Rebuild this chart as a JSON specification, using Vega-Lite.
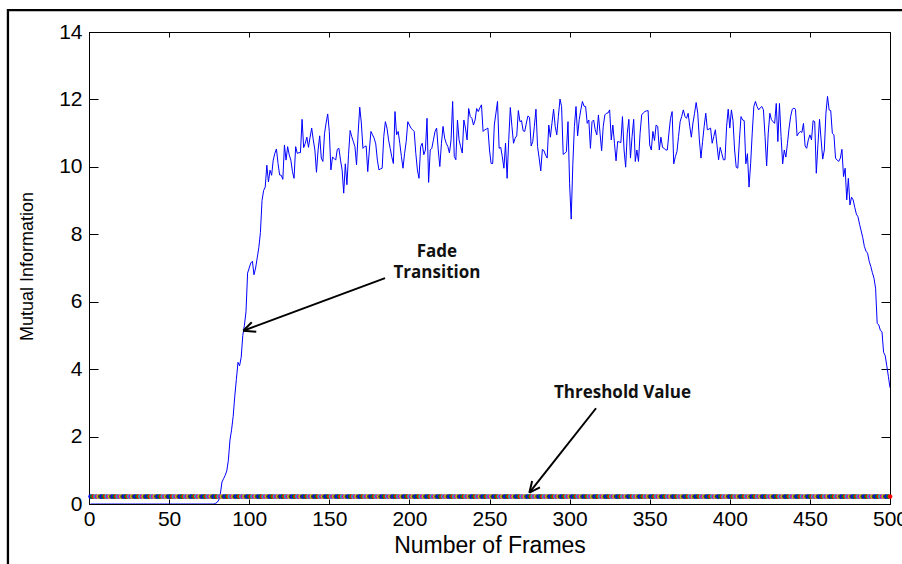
{
  "$schema": "https://vega.github.io/schema/vega-lite/v6.json",
  "width": 801,
  "height": 472,
  "autosize": {"type": "none"},
  "padding": {"left": 89, "top": 32, "right": 12, "bottom": 60},
  "background": "white",
  "config": {
    "view": {"stroke": "black", "strokeWidth": 1},
    "font": "Liberation Sans",
    "axis": {"grid": false, "labelFlush": false, "domainColor": "black", "tickColor": "black", "labelColor": "black", "titleColor": "black", "titleFontWeight": "normal", "labelFont": "Liberation Sans", "titleFont": "Liberation Sans"}
  },
  "datasets": {
    "frame": [{"x0": -50.6, "x1": 520, "y0": 14.65, "y1": -3}],
    "arrows": [
      {"x": 184.8, "y": 6.70, "x2": 96.3, "y2": 5.14},
      {"x": 96.3, "y": 5.14, "x2": 104.4, "y2": 5.11},
      {"x": 96.3, "y": 5.14, "x2": 101.6, "y2": 5.39},
      {"x": 316.5, "y": 2.84, "x2": 274.9, "y2": 0.335},
      {"x": 274.9, "y": 0.335, "x2": 281.5, "y2": 0.496},
      {"x": 274.9, "y": 0.335, "x2": 276.6, "y2": 0.683}
    ],
    "labels": [
      {"x": 217.2, "y": 7.46, "t": "Fade"},
      {"x": 217.2, "y": 6.84, "t": "Transition"},
      {"x": 333, "y": 3.28, "t": "Threshold Value"}
    ],
    "mi": [
{"f":1,"v":0},{"f":2,"v":0},{"f":3,"v":0},{"f":4,"v":0},{"f":5,"v":0},{"f":6,"v":0},{"f":7,"v":0},{"f":8,"v":0},{"f":9,"v":0},{"f":10,"v":0},
{"f":11,"v":0},{"f":12,"v":0},{"f":13,"v":0},{"f":14,"v":0},{"f":15,"v":0},{"f":16,"v":0},{"f":17,"v":0},{"f":18,"v":0},{"f":19,"v":0},{"f":20,"v":0},
{"f":21,"v":0},{"f":22,"v":0},{"f":23,"v":0},{"f":24,"v":0},{"f":25,"v":0},{"f":26,"v":0},{"f":27,"v":0},{"f":28,"v":0},{"f":29,"v":0},{"f":30,"v":0},
{"f":31,"v":0},{"f":32,"v":0},{"f":33,"v":0},{"f":34,"v":0},{"f":35,"v":0},{"f":36,"v":0},{"f":37,"v":0},{"f":38,"v":0},{"f":39,"v":0},{"f":40,"v":0},
{"f":41,"v":0},{"f":42,"v":0},{"f":43,"v":0},{"f":44,"v":0},{"f":45,"v":0},{"f":46,"v":0},{"f":47,"v":0},{"f":48,"v":0},{"f":49,"v":0},{"f":50,"v":0},
{"f":51,"v":0},{"f":52,"v":0},{"f":53,"v":0},{"f":54,"v":0},{"f":55,"v":0},{"f":56,"v":0},{"f":57,"v":0},{"f":58,"v":0},{"f":59,"v":0},{"f":60,"v":0},
{"f":61,"v":0},{"f":62,"v":0},{"f":63,"v":0},{"f":64,"v":0},{"f":65,"v":0},{"f":66,"v":0},{"f":67,"v":0},{"f":68,"v":0},{"f":69,"v":0},{"f":70,"v":0},
{"f":71,"v":0},{"f":72,"v":0},{"f":73,"v":0},{"f":74,"v":0},{"f":75,"v":0},{"f":76,"v":0},{"f":77,"v":0},{"f":78,"v":0},{"f":79,"v":0.02},{"f":80,"v":0.05},
{"f":81,"v":0.12},{"f":82,"v":0.3},{"f":83,"v":0.65},{"f":84,"v":0.75},{"f":85,"v":0.85},{"f":86,"v":0.98},{"f":87,"v":1.3},{"f":88,"v":1.9},{"f":89,"v":2.2},{"f":90,"v":2.6},
{"f":91,"v":3.2},{"f":92,"v":3.7},{"f":93,"v":4.2},{"f":94,"v":4.1},{"f":95,"v":4.35},{"f":96,"v":5.0},{"f":97,"v":5.3},{"f":98,"v":5.7},{"f":99,"v":6.85},{"f":100,"v":7.0},
{"f":101,"v":7.15},{"f":102,"v":7.2},{"f":103,"v":6.8},{"f":104,"v":7.0},{"f":105,"v":7.3},{"f":106,"v":7.6},{"f":107,"v":8.05},{"f":108,"v":9.0},{"f":109,"v":9.3},{"f":110,"v":9.4},
{"f":111,"v":10.05},{"f":112,"v":9.55},{"f":113,"v":9.9},{"f":114,"v":9.75},{"f":115,"v":10.2},{"f":116,"v":10.4},{"f":117,"v":10.53},{"f":118,"v":10.1},{"f":119,"v":9.76},{"f":120,"v":9.75},
{"f":121,"v":9.63},{"f":122,"v":10.65},{"f":123,"v":10.2},{"f":124,"v":10.6},{"f":125,"v":10.35},{"f":126,"v":10.2},{"f":127,"v":9.86},{"f":128,"v":9.66},{"f":129,"v":10.6},{"f":130,"v":10.4},
{"f":131,"v":10.42},{"f":132,"v":10.42},{"f":133,"v":11.41},{"f":134,"v":10.57},{"f":135,"v":10.7},{"f":136,"v":10.88},{"f":137,"v":10.58},{"f":138,"v":10.88},{"f":139,"v":11.15},{"f":140,"v":10.8},
{"f":141,"v":10.5},{"f":142,"v":9.84},{"f":143,"v":10.5},{"f":144,"v":10.92},{"f":145,"v":10.26},{"f":146,"v":10.16},{"f":147,"v":10.98},{"f":148,"v":11.3},{"f":149,"v":11.57},{"f":150,"v":11.05},
{"f":151,"v":9.91},{"f":152,"v":10.29},{"f":153,"v":10.25},{"f":154,"v":10.2},{"f":155,"v":10.52},{"f":156,"v":10.55},{"f":157,"v":10.2},{"f":158,"v":9.91},{"f":159,"v":9.22},{"f":160,"v":10.09},
{"f":161,"v":9.47},{"f":162,"v":10.36},{"f":163,"v":11.08},{"f":164,"v":10.9},{"f":165,"v":10.75},{"f":166,"v":10.6},{"f":167,"v":10.06},{"f":168,"v":11.0},{"f":169,"v":11.77},{"f":170,"v":11.3},
{"f":171,"v":10.55},{"f":172,"v":10.6},{"f":173,"v":10.62},{"f":174,"v":9.86},{"f":175,"v":10.5},{"f":176,"v":11.05},{"f":177,"v":10.95},{"f":178,"v":10.85},{"f":179,"v":10.68},{"f":180,"v":10.2},
{"f":181,"v":9.91},{"f":182,"v":9.94},{"f":183,"v":9.96},{"f":184,"v":10.9},{"f":185,"v":11.34},{"f":186,"v":11.15},{"f":187,"v":10.8},{"f":188,"v":10.55},{"f":189,"v":10.3},{"f":190,"v":10.1},
{"f":191,"v":11.64},{"f":192,"v":10.95},{"f":193,"v":11.05},{"f":194,"v":10.7},{"f":195,"v":10.31},{"f":196,"v":9.96},{"f":197,"v":10.4},{"f":198,"v":10.75},{"f":199,"v":11.34},{"f":200,"v":11.24},
{"f":201,"v":11.15},{"f":202,"v":11.1},{"f":203,"v":11.05},{"f":204,"v":10.4},{"f":205,"v":9.91},{"f":206,"v":9.66},{"f":207,"v":10.6},{"f":208,"v":10.7},{"f":209,"v":10.36},{"f":210,"v":10.5},
{"f":211,"v":11.44},{"f":212,"v":9.54},{"f":213,"v":10.5},{"f":214,"v":10.55},{"f":215,"v":10.8},{"f":216,"v":11.05},{"f":217,"v":11.15},{"f":218,"v":10.5},{"f":219,"v":10.01},{"f":220,"v":10.7},
{"f":221,"v":11.2},{"f":222,"v":10.85},{"f":223,"v":10.7},{"f":224,"v":10.6},{"f":225,"v":10.41},{"f":226,"v":10.8},{"f":227,"v":11.94},{"f":228,"v":10.31},{"f":229,"v":10.21},{"f":230,"v":11.39},
{"f":231,"v":10.8},{"f":232,"v":10.6},{"f":233,"v":10.41},{"f":234,"v":11.39},{"f":235,"v":11.15},{"f":236,"v":10.8},{"f":237,"v":11.73},{"f":238,"v":11.49},{"f":239,"v":11.44},{"f":240,"v":11.24},
{"f":241,"v":11.39},{"f":242,"v":11.73},{"f":243,"v":11.64},{"f":244,"v":11.75},{"f":245,"v":11.84},{"f":246,"v":11.05},{"f":247,"v":11.1},{"f":248,"v":11.12},{"f":249,"v":11.15},{"f":250,"v":10.5},
{"f":251,"v":10.1},{"f":252,"v":10.1},{"f":253,"v":11.24},{"f":254,"v":11.59},{"f":255,"v":11.94},{"f":256,"v":10.55},{"f":257,"v":10.58},{"f":258,"v":10.3},{"f":259,"v":9.96},{"f":260,"v":10.7},
{"f":261,"v":9.66},{"f":262,"v":10.8},{"f":263,"v":11.76},{"f":264,"v":11.2},{"f":265,"v":10.7},{"f":266,"v":10.85},{"f":267,"v":10.92},{"f":268,"v":11.67},{"f":269,"v":11.34},{"f":270,"v":11.37},
{"f":271,"v":11.07},{"f":272,"v":11.05},{"f":273,"v":11.3},{"f":274,"v":11.51},{"f":275,"v":11.47},{"f":276,"v":10.62},{"f":277,"v":10.75},{"f":278,"v":11.2},{"f":279,"v":11.71},{"f":280,"v":10.6},
{"f":281,"v":10.26},{"f":282,"v":9.88},{"f":283,"v":10.52},{"f":284,"v":10.48},{"f":285,"v":10.35},{"f":286,"v":10.26},{"f":287,"v":11.24},{"f":288,"v":10.88},{"f":289,"v":11.3},{"f":290,"v":11.71},
{"f":291,"v":11.2},{"f":292,"v":10.95},{"f":293,"v":11.5},{"f":294,"v":12.01},{"f":295,"v":11.79},{"f":296,"v":10.37},{"f":297,"v":10.4},{"f":298,"v":10.45},{"f":299,"v":11.34},{"f":300,"v":9.5},
{"f":301,"v":8.45},{"f":302,"v":10.06},{"f":303,"v":11.2},{"f":304,"v":11.79},{"f":305,"v":10.92},{"f":306,"v":11.4},{"f":307,"v":11.69},{"f":308,"v":11.94},{"f":309,"v":11.8},{"f":310,"v":11.79},
{"f":311,"v":11.29},{"f":312,"v":11.39},{"f":313,"v":10.55},{"f":314,"v":11.34},{"f":315,"v":11.39},{"f":316,"v":11.1},{"f":317,"v":10.95},{"f":318,"v":11.54},{"f":319,"v":11.0},{"f":320,"v":10.48},
{"f":321,"v":11.2},{"f":322,"v":11.54},{"f":323,"v":11.59},{"f":324,"v":11.6},{"f":325,"v":11.69},{"f":326,"v":10.8},{"f":327,"v":11.24},{"f":328,"v":10.7},{"f":329,"v":10.18},{"f":330,"v":10.75},
{"f":331,"v":10.74},{"f":332,"v":10.72},{"f":333,"v":11.49},{"f":334,"v":10.5},{"f":335,"v":9.99},{"f":336,"v":11.0},{"f":337,"v":11.41},{"f":338,"v":10.26},{"f":339,"v":10.9},{"f":340,"v":11.41},
{"f":341,"v":10.16},{"f":342,"v":10.5},{"f":343,"v":10.16},{"f":344,"v":11.0},{"f":345,"v":11.54},{"f":346,"v":11.6},{"f":347,"v":11.64},{"f":348,"v":11.66},{"f":349,"v":11.67},{"f":350,"v":10.65},
{"f":351,"v":10.5},{"f":352,"v":11.05},{"f":353,"v":10.78},{"f":354,"v":11.24},{"f":355,"v":11.2},{"f":356,"v":10.5},{"f":357,"v":10.88},{"f":358,"v":10.58},{"f":359,"v":10.55},{"f":360,"v":10.5},
{"f":361,"v":10.5},{"f":362,"v":11.0},{"f":363,"v":11.44},{"f":364,"v":11.64},{"f":365,"v":10.09},{"f":366,"v":10.3},{"f":367,"v":10.45},{"f":368,"v":10.9},{"f":369,"v":11.34},{"f":370,"v":11.5},
{"f":371,"v":11.69},{"f":372,"v":11.5},{"f":373,"v":11.44},{"f":374,"v":11.59},{"f":375,"v":11.2},{"f":376,"v":10.88},{"f":377,"v":11.3},{"f":378,"v":11.59},{"f":379,"v":11.91},{"f":380,"v":11.59},
{"f":381,"v":10.8},{"f":382,"v":10.26},{"f":383,"v":10.75},{"f":384,"v":11.2},{"f":385,"v":11.59},{"f":386,"v":11.1},{"f":387,"v":11.12},{"f":388,"v":11.15},{"f":389,"v":10.7},{"f":390,"v":10.9},
{"f":391,"v":11.1},{"f":392,"v":10.65},{"f":393,"v":10.21},{"f":394,"v":10.58},{"f":395,"v":10.4},{"f":396,"v":10.21},{"f":397,"v":10.21},{"f":398,"v":11.2},{"f":399,"v":11.71},{"f":400,"v":11.15},
{"f":401,"v":11.69},{"f":402,"v":11.37},{"f":403,"v":10.5},{"f":404,"v":9.99},{"f":405,"v":9.96},{"f":406,"v":10.8},{"f":407,"v":11.49},{"f":408,"v":11.39},{"f":409,"v":11.37},{"f":410,"v":10.09},
{"f":411,"v":10.39},{"f":412,"v":9.4},{"f":413,"v":10.09},{"f":414,"v":11.0},{"f":415,"v":11.79},{"f":416,"v":11.94},{"f":417,"v":11.79},{"f":418,"v":11.69},{"f":419,"v":11.75},{"f":420,"v":11.79},
{"f":421,"v":11.69},{"f":422,"v":10.9},{"f":423,"v":10.03},{"f":424,"v":11.0},{"f":425,"v":11.59},{"f":426,"v":11.4},{"f":427,"v":11.34},{"f":428,"v":11.29},{"f":429,"v":11.88},{"f":430,"v":10.75},
{"f":431,"v":11.88},{"f":432,"v":10.9},{"f":433,"v":10.09},{"f":434,"v":10.5},{"f":435,"v":10.29},{"f":436,"v":10.7},{"f":437,"v":11.15},{"f":438,"v":11.5},{"f":439,"v":11.71},{"f":440,"v":11.74},
{"f":441,"v":11.71},{"f":442,"v":10.92},{"f":443,"v":11.0},{"f":444,"v":11.05},{"f":445,"v":11.02},{"f":446,"v":11.29},{"f":447,"v":10.62},{"f":448,"v":10.55},{"f":449,"v":10.8},{"f":450,"v":10.95},
{"f":451,"v":10.8},{"f":452,"v":11.37},{"f":453,"v":11.34},{"f":454,"v":9.81},{"f":455,"v":10.65},{"f":456,"v":11.41},{"f":457,"v":10.8},{"f":458,"v":10.23},{"f":459,"v":10.5},{"f":460,"v":11.59},
{"f":461,"v":12.09},{"f":462,"v":11.69},{"f":463,"v":11.67},{"f":464,"v":11.0},{"f":465,"v":10.95},{"f":466,"v":10.26},{"f":467,"v":10.2},{"f":468,"v":10.16},{"f":469,"v":10.26},{"f":470,"v":10.52},
{"f":471,"v":9.71},{"f":472,"v":9.96},{"f":473,"v":9.02},{"f":474,"v":9.66},{"f":475,"v":8.87},{"f":476,"v":9.1},{"f":477,"v":9.02},{"f":478,"v":8.8},{"f":479,"v":8.6},{"f":480,"v":8.52},
{"f":481,"v":8.3},{"f":482,"v":8.1},{"f":483,"v":7.9},{"f":484,"v":7.64},{"f":485,"v":7.5},{"f":486,"v":7.44},{"f":487,"v":7.2},{"f":488,"v":7.05},{"f":489,"v":6.86},{"f":490,"v":6.7},
{"f":491,"v":6.4},{"f":492,"v":5.36},{"f":493,"v":5.31},{"f":494,"v":5.15},{"f":495,"v":5.11},{"f":496,"v":4.5},{"f":497,"v":4.4},{"f":498,"v":4.1},{"f":499,"v":3.78},{"f":500,"v":3.45}
    ]
  },
  "layer": [
    {
      "data": {"name": "frame"},
      "mark": {"type": "rect", "fillOpacity": 0, "stroke": "black", "strokeWidth": 2.3},
      "encoding": {
        "x": {"field": "x0", "type": "quantitative", "scale": {"domain": [0, 500], "nice": false, "zero": false}, "axis": null},
        "x2": {"field": "x1"},
        "y": {"field": "y0", "type": "quantitative", "scale": {"domain": [0, 14], "nice": false, "zero": false}, "axis": null},
        "y2": {"field": "y1"}
      }
    },
    {
      "data": {"name": "mi"},
      "mark": {"type": "line", "color": "#0000ff", "strokeWidth": 1, "clip": true},
      "encoding": {
        "x": {"field": "f", "type": "quantitative", "scale": {"domain": [0, 500], "nice": false, "zero": false},
          "axis": {"orient": "bottom", "values": [0, 50, 100, 150, 200, 250, 300, 350, 400, 450, 500], "tickSize": -5, "labelFontSize": 21, "labelPadding": 9, "title": "Number of Frames", "titleFontSize": 23, "titleY": 41, "titleBaseline": "middle"}},
        "y": {"field": "v", "type": "quantitative", "scale": {"domain": [0, 14], "nice": false, "zero": false},
          "axis": {"orient": "left", "values": [0, 2, 4, 6, 8, 10, 12, 14], "tickSize": -9, "labelFontSize": 21, "labelPadding": 16, "title": "Mutual Information", "titleFontSize": 18, "titleX": -62, "titleY": 234, "titleAngle": -90, "titleBaseline": "middle", "titleAlign": "center"}}
      }
    },
    {
      "data": {"name": "mi"},
      "mark": {"type": "point", "filled": true, "opacity": 1, "size": 22, "shape": "circle"},
      "encoding": {
        "x": {"field": "f", "type": "quantitative", "axis": null},
        "y": {"datum": 0.22, "type": "quantitative", "axis": null},
        "color": {"field": "f", "type": "nominal", "legend": null,
          "scale": {"range": ["#0000ff", "#008000", "#ff0000", "#00bfbf", "#bf00bf", "#bfbf00", "#404040"]}}
      }
    },
    {
      "data": {"name": "arrows"},
      "mark": {"type": "rule", "color": "black", "strokeWidth": 2},
      "encoding": {
        "x": {"field": "x", "type": "quantitative", "axis": null},
        "y": {"field": "y", "type": "quantitative", "axis": null},
        "x2": {"field": "x2"},
        "y2": {"field": "y2"}
      }
    },
    {
      "data": {"name": "labels"},
      "mark": {"type": "text", "font": "Open Sans", "fontWeight": "bold", "fontSize": 17, "color": "#111111", "align": "center", "baseline": "middle"},
      "encoding": {
        "x": {"field": "x", "type": "quantitative",
          "axis": {"orient": "top", "values": [0, 50, 100, 150, 200, 250, 300, 350, 400, 450, 500], "labels": false, "tickSize": -5, "title": null, "domain": false}},
        "y": {"field": "y", "type": "quantitative",
          "axis": {"orient": "right", "values": [0, 2, 4, 6, 8, 10, 12, 14], "labels": false, "tickSize": -9, "title": null, "domain": false}},
        "text": {"field": "t"}
      }
    }
  ],
  "resolve": {"axis": {"x": "independent", "y": "independent"}}
}
